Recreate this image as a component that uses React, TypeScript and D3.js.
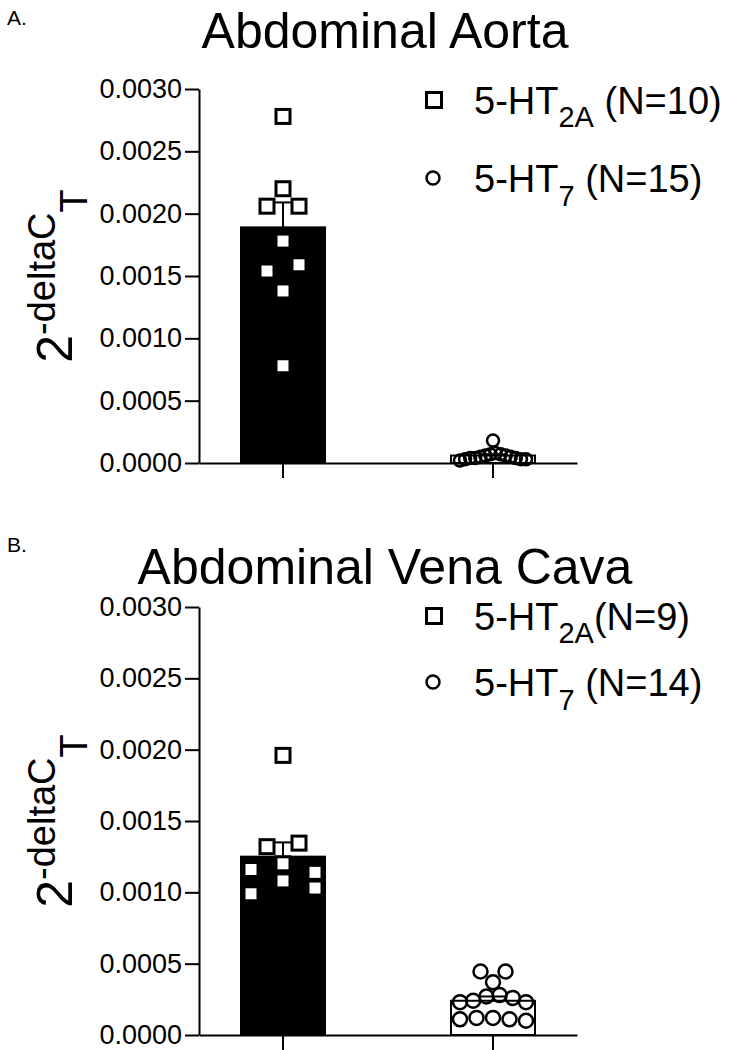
import React, { useEffect, useRef } from "react";
import * as d3 from "d3";

const categories = ["5-HT2A", "5-HT7"];
const yTicks = [0, 0.0005, 0.001, 0.0015, 0.002, 0.0025, 0.003];

// Panel A: abdominal aorta
const aortaMeans = [0.00189, 0.00006];
const aortaSem = [0.0002, 0.00001];
const aortaHT2A = [0.00278, 0.0022, 0.00206, 0.00206, 0.00178, 0.00159, 0.00154, 0.00138, 0.00078];
const aortaHT7 = [
  0.00018, 0.00008, 0.00007, 0.00007, 0.00006, 0.00006, 0.00005, 0.00005,
  0.00004, 0.00004, 0.00004, 0.00003, 0.00003, 0.00003, 0.00002,
];
const aortaN = [10, 15];

// Panel B: abdominal vena cava
const cavaMeans = [0.00125, 0.00024];
const cavaSem = [0.0001, 0.00003];
const cavaHT2A = [0.00196, 0.001345, 0.00132, 0.0012, 0.00116, 0.00114, 0.00108, 0.00103, 0.00099];
const cavaHT7 = [
  0.000445, 0.000445, 0.00037, 0.00028, 0.00027, 0.00026, 0.00024, 0.00023,
  0.00023, 0.00012, 0.00012, 0.00011, 0.00011, 0.0001,
];
const cavaN = [9, 14];

const FONT = "'Liberation Sans', Arial, Helvetica, sans-serif";

interface PanelSpec {
  letter: string;
  letterY: number;
  title: string;
  titleY: number;
  titleSize: number;
  means: number[];
  sem: number[];
  points: number[][];
  n: number[];
  legendSpace: boolean;
  legendY: number[];
  y0: number;
  y1: number;
  circleR: number;
}

// column-scatter placement: points close in value share a row and get spread sideways
function scatterX(values: number[], y: d3.ScaleLinear<number, number>, step: number, maxWidth: number) {
  const sorted = values.map((v, i) => ({ v, i })).sort((a, b) => b.v - a.v);
  const rows: { v: number; i: number }[][] = [];
  sorted.forEach((p) => {
    const last = rows[rows.length - 1];
    if (last && y(p.v) - y(last[last.length - 1].v) < 8) last.push(p);
    else rows.push([p]);
  });
  const out = new Array(values.length).fill(0);
  let flip = 1;
  rows.forEach((row) => {
    const n = row.length;
    if (n === 1) return;
    const s = Math.min(step, maxWidth / (n - 1));
    if (n % 2 === 1) {
      row.forEach((p, k) => {
        const m = Math.ceil(k / 2);
        const side = k % 2 === 1 ? -1 : 1;
        out[p.i] = k === 0 ? 0 : side * m * s * flip;
      });
      flip = -flip;
    } else {
      row.forEach((p, k) => {
        const m = Math.floor(k / 2) + 0.5;
        out[p.i] = (k % 2 === 0 ? 1 : -1) * m * s;
      });
    }
  });
  return out;
}

function drawPanel(svg: d3.Selection<SVGSVGElement, unknown, null, undefined>, spec: PanelSpec) {
  const g = svg.append("g").attr("font-family", FONT).attr("fill", "#000");

  const x = d3
    .scaleBand<string>()
    .domain(categories)
    .range([199, 577])
    .paddingInner(0.6)
    .paddingOuter(0.2);
  const y = d3.scaleLinear().domain([0, 0.003]).range([spec.y0, spec.y1]);

  // panel letter and title
  g.append("text").attr("x", 7).attr("y", spec.letterY).attr("font-size", 21).text(spec.letter);
  g.append("text")
    .attr("x", 385)
    .attr("y", spec.titleY)
    .attr("text-anchor", "middle")
    .attr("font-size", spec.titleSize)
    .text(spec.title);

  // y axis
  const yAxis = d3
    .axisLeft(y)
    .tickValues(yTicks)
    .tickFormat(d3.format(".4f") as any)
    .tickSize(14)
    .tickSizeOuter(0)
    .tickPadding(3);
  const ya = g.append("g").attr("transform", "translate(199,0)").call(yAxis);
  ya.select(".domain").attr("stroke-width", 2);
  ya.selectAll(".tick line").attr("stroke-width", 2);
  ya.selectAll("text").attr("font-size", 27).attr("font-family", FONT).attr("fill", "#000");

  // y label 2^-deltaC_T
  const lab = g
    .append("text")
    .attr("transform", `translate(72,${(spec.y0 + spec.y1) / 2}) rotate(-90)`)
    .attr("text-anchor", "middle")
    .attr("font-size", 50);
  lab.append("tspan").text("2");
  lab.append("tspan").attr("font-size", 38).attr("dy", -17).text("-deltaC");
  lab.append("tspan").attr("font-size", 38).attr("dy", 32).text("T");

  // bars
  g.selectAll(".bar")
    .data(spec.means)
    .join("rect")
    .attr("x", (d, i) => x(categories[i])!)
    .attr("y", (d) => y(d))
    .attr("width", x.bandwidth())
    .attr("height", (d) => y(0) - y(d))
    .attr("fill", (d, i) => (i === 0 ? "#000" : "#fff"))
    .attr("stroke", "#000")
    .attr("stroke-width", 2);

  // error bars (upper half only)
  spec.means.forEach((m, i) => {
    const cx = x(categories[i])! + x.bandwidth() / 2;
    g.append("line")
      .attr("x1", cx).attr("x2", cx)
      .attr("y1", y(m)).attr("y2", y(m + spec.sem[i]))
      .attr("stroke", "#000").attr("stroke-width", 2);
    g.append("line")
      .attr("x1", cx - 14).attr("x2", cx + 14)
      .attr("y1", y(m + spec.sem[i])).attr("y2", y(m + spec.sem[i]))
      .attr("stroke", "#000").attr("stroke-width", 2);
  });

  // x axis
  const xAxis = d3.axisBottom(x).tickSize(15).tickSizeOuter(0).tickFormat(() => "");
  const xa = g.append("g").attr("transform", `translate(0,${spec.y0})`).call(xAxis);
  xa.select(".domain").attr("stroke-width", 2);
  xa.selectAll(".tick line").attr("stroke-width", 2);

  // 5-HT2A squares
  const c0 = x(categories[0])! + x.bandwidth() / 2;
  const off0 = scatterX(spec.points[0], y, 32, 68);
  g.selectAll(".sq")
    .data(spec.points[0])
    .join("rect")
    .attr("x", (d, i) => c0 + off0[i] - 7)
    .attr("y", (d) => y(d) - 7)
    .attr("width", 14)
    .attr("height", 14)
    .attr("fill", "#fff")
    .attr("stroke", "#000")
    .attr("stroke-width", 3);

  // 5-HT7 circles
  const c1 = x(categories[1])! + x.bandwidth() / 2;
  const off1 = scatterX(spec.points[1], y, 25, 66);
  g.selectAll(".ci")
    .data(spec.points[1])
    .join("circle")
    .attr("cx", (d, i) => c1 + off1[i])
    .attr("cy", (d) => y(d))
    .attr("r", spec.circleR)
    .attr("fill", "none")
    .attr("stroke", "#000")
    .attr("stroke-width", 2.5);

  // legend
  const l1 = spec.legendY[0];
  const l2 = spec.legendY[1];
  g.append("rect")
    .attr("x", 434 - 7.5).attr("y", l1 - 7.5)
    .attr("width", 15).attr("height", 15)
    .attr("fill", "#fff").attr("stroke", "#000").attr("stroke-width", 3);
  g.append("circle")
    .attr("cx", 433).attr("cy", l2)
    .attr("r", 6.5)
    .attr("fill", "#fff").attr("stroke", "#000").attr("stroke-width", 2.5);

  const t1 = g.append("text").attr("x", 474).attr("y", l1 + 14).attr("font-size", 38);
  t1.append("tspan").text("5-HT");
  t1.append("tspan").attr("font-size", 29).attr("dy", 13).text("2A");
  t1.append("tspan").attr("dy", -13).text(`${spec.legendSpace ? " " : ""}(N=${spec.n[0]})`);

  const t2 = g.append("text").attr("x", 474).attr("y", l2 + 14).attr("font-size", 38);
  t2.append("tspan").text("5-HT");
  t2.append("tspan").attr("font-size", 29).attr("dy", 14).text("7");
  t2.append("tspan").attr("dy", -14).text(` (N=${spec.n[1]})`);
}

const App: React.FC = () => {
  const ref = useRef<SVGSVGElement | null>(null);

  useEffect(() => {
    if (!ref.current) return;
    ref.current.innerHTML = "";
    const svg = d3.select(ref.current);

    drawPanel(svg, {
      letter: "A.",
      letterY: 25,
      title: "Abdominal Aorta",
      titleY: 48,
      titleSize: 50,
      means: aortaMeans,
      sem: aortaSem,
      points: [aortaHT2A, aortaHT7],
      n: aortaN,
      legendSpace: true,
      legendY: [100, 178],
      y0: 463,
      y1: 89,
      circleR: 6,
    });

    drawPanel(svg, {
      letter: "B.",
      letterY: 552,
      title: "Abdominal Vena Cava",
      titleY: 584,
      titleSize: 50,
      means: cavaMeans,
      sem: cavaSem,
      points: [cavaHT2A, cavaHT7],
      n: cavaN,
      legendSpace: false,
      legendY: [616, 682],
      y0: 1035,
      y1: 607,
      circleR: 7,
    });
  }, []);

  return (
    <svg
      ref={ref}
      width={740}
      height={1050}
      style={{ position: "absolute", left: 0, top: 0, background: "#fff" }}
    />
  );
};

export default App;
